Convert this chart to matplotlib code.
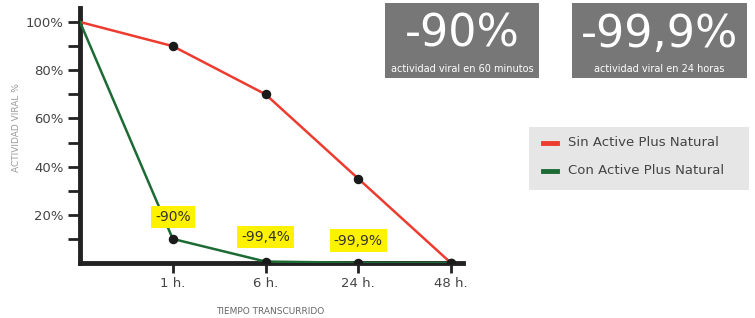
import matplotlib.pyplot as plt
from matplotlib.patches import Rectangle

# datos
tiempos = ["1 h.", "6 h.", "24 h.", "48 h."]
sin_active = [100, 90, 70, 35, 0]
con_active = [100, 10, 0.6, 0.1, 0]
etiquetas = ["-90%", "-99,4%", "-99,9%"]
y_ticks = [20, 40, 60, 80, 100]
y_minor = [10, 30, 50, 70, 90]

W, H = 755, 318
fig = plt.figure(figsize=(W / 100, H / 100), dpi=100)
fig.patch.set_facecolor("white")

def fx(px):
    return px / W

def fy(py):
    return 1 - py / H

# eje principal
ax = fig.add_axes([fx(80), fy(263), fx(463) - fx(80), fy(8) - fy(263)])
ax.set_xlim(0, (463 - 80) / 92.75)
ax.set_ylim(0, (263 - 8) / 2.41)
x = list(range(len(sin_active)))

ax.plot(x, sin_active, color="#ee3b2f", lw=1.8, zorder=3)
ax.plot(x, con_active, color="#1d6b34", lw=1.8, zorder=3)
ax.scatter(x[1:], sin_active[1:], s=34, color="#1a1a1a", zorder=5)
ax.scatter(x[1:], con_active[1:], s=34, color="#1a1a1a", zorder=5)

for sp in ["top", "right"]:
    ax.spines[sp].set_visible(False)
for sp in ["left", "bottom"]:
    ax.spines[sp].set_linewidth(3.5)
    ax.spines[sp].set_color("#222222")

ax.set_xticks(x[1:])
ax.set_xticklabels(tiempos)
ax.set_yticks(y_ticks)
ax.set_yticklabels([f"{v}%" for v in y_ticks])
ax.set_yticks(y_minor, minor=True)
ax.tick_params(axis="both", which="both", length=9, width=2, color="#222222",
               labelsize=9.5, labelcolor="#444444", pad=3)
ax.tick_params(axis="x", length=7)
ax.patch.set_alpha(0)

# etiquetas amarillas
offsets = [16, 17.5, 16]
for xi, yi, txt, off in zip(x[1:4], con_active[1:4], etiquetas, offsets):
    ax.annotate(txt, (xi, yi), xytext=(0, off), textcoords="offset points",
                ha="center", va="center", fontsize=10, color="#333333",
                bbox=dict(boxstyle="square,pad=0.3", fc="#fff200", ec="none"), zorder=6)

fig.text(fx(17), fy(128), "ACTIVIDAD VIRAL %", rotation=90, ha="center", va="center",
         fontsize=6.5, color="#999999")
fig.text(fx(270), fy(311), "TIEMPO TRANSCURRIDO", ha="center", va="center",
         fontsize=6.5, color="#666666")

# cajas grises
cajas = [(385, 539, "-90%", "actividad viral en 60 minutos"),
         (572, 747, "-99,9%", "actividad viral en 24 horas")]
for x0, x1, big, small in cajas:
    fig.patches.append(Rectangle((fx(x0), fy(78)), fx(x1) - fx(x0), fy(3) - fy(78),
                                 transform=fig.transFigure, fc="#777777", ec="none"))
    cx = fx((x0 + x1) / 2)
    fig.text(cx, fy(34), big, ha="center", va="center", fontsize=32, color="white")
    fig.text(cx, fy(69), small, ha="center", va="center", fontsize=7, color="white")

# leyenda
fig.patches.append(Rectangle((fx(529), fy(190)), fx(749) - fx(529), fy(127) - fy(190),
                             transform=fig.transFigure, fc="#e6e6e6", ec="none"))
for py, col, txt in [(143, "#ee3b2f", "Sin Active Plus Natural"),
                     (171, "#1d6b34", "Con Active Plus Natural")]:
    fig.add_artist(plt.Line2D([fx(543), fx(557)], [fy(py), fy(py)], color=col, lw=3.5))
    fig.text(fx(568), fy(py), txt, ha="left", va="center", fontsize=9.5, color="#444444")

fig.savefig("out.png", dpi=100)
